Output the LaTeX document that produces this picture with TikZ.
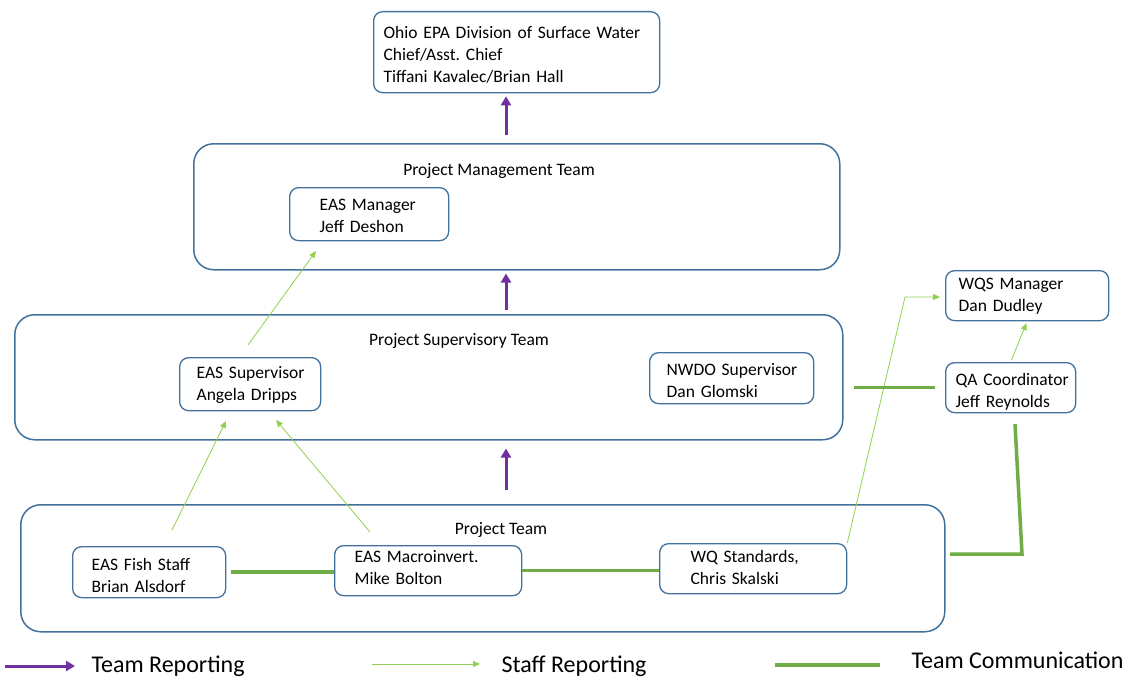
\documentclass[tikz,border=0pt]{standalone}
\usepackage{fontspec}
\setmainfont{Carlito}
\usetikzlibrary{arrows.meta}

\definecolor{boxblue}{HTML}{41719C}
\definecolor{teampurple}{HTML}{7030A0}
\definecolor{staffgreen}{HTML}{92D050}
\definecolor{commgreen}{HTML}{70AD47}

\begin{document}
\frenchspacing
\hyphenpenalty=10000
\begin{tikzpicture}
[
	x=1pt, y=-1pt,
	team/.style={draw=boxblue,line width=1.5pt,rounded corners=20pt,anchor=north west,inner sep=0pt},
	person/.style={draw=boxblue,line width=1.3pt,rounded corners=9pt,anchor=north west,align=left,inner ysep=0pt,text height=0pt,
		font=\fontsize{17.5}{22}\selectfont},
	title/.style={anchor=base,font=\fontsize{17.5}{22}\selectfont},
	teamrep/.style={teampurple,line width=3pt,-{Triangle[length=9pt,width=10pt]}},
	staffrep/.style={staffgreen,line width=0.8pt,-{Triangle[length=7pt,width=6pt]}},
	teamcomm/.style={commgreen,line width=3.5pt},
	legend/.style={anchor=base west,font=\fontsize{24}{28}\selectfont}
]
	\useasboundingbox (0,0) rectangle (1129,677);
	\coordinate (spine) at (506,0);

	% division chief
	\node[person,text width=266pt,inner xsep=10pt,minimum height=81pt,text depth=27pt] (ohio) at (373,11)
		{Ohio EPA Division of Surface Water\\Chief/Asst. Chief\\Tiffani Kavalec/Brian Hall};

	% management team
	\node[team,minimum width=646pt,minimum height=126pt] (pmt) at (193,143) {};
	\node[title] (pmttitle) at (499,175) {Project Management Team};
	\node[person,text width=99pt,inner xsep=30pt,minimum height=53pt,text depth=7pt] (easmgr) at (289,187)
		{EAS Manager\\Jeff Deshon};

	% supervisory team
	\node[team,minimum width=828pt,minimum height=125pt] (pst) at (14,314) {};
	\node[title] (psttitle) at (459,345) {Project Supervisory Team};
	\node[person,text width=107pt,inner xsep=17pt,minimum height=53pt,text depth=11pt] (eassup) at (179,357)
		{EAS~Supervisor\\Angela~Dripps};
	\node[person,text width=130pt,inner xsep=17pt,minimum height=51pt,text depth=5pt] (nwdo) at (649,352)
		{NWDO~Supervisor\\Dan~Glomski};

	% project team
	\node[team,minimum width=924pt,minimum height=127pt] (pt) at (20,504) {};
	\node[title] (pttitle) at (501,534) {Project Team};
	\node[person,text width=115pt,inner xsep=19pt,minimum height=51pt,text depth=3pt] (fish) at (72,546)
		{EAS Fish Staff\\Brian Alsdorf};
	\node[person,text width=147pt,inner xsep=20pt,minimum height=50pt,text depth=16pt] (macro) at (334,545)
		{EAS Macroinvert.\\Mike Bolton};
	\node[person,text width=125pt,inner xsep=31pt,minimum height=50pt,text depth=12pt] (wq) at (659,543)
		{WQ Standards,\\Chris Skalski};

	% water quality standards
	\node[person,text width=137pt,inner xsep=13pt,minimum height=50pt,text depth=12pt] (wqs) at (945,270)
		{WQS~Manager\\Dan~Dudley};
	\node[person,text width=110pt,inner xsep=10pt,minimum height=50pt,text depth=4pt] (qa) at (945,362)
		{QA~Coordinator\\Jeff~Reynolds};

	% team reporting
	\draw[teamrep,shorten <=8pt,shorten >=3pt] (pmt.north -| spine) -- (ohio.south -| spine);
	\draw[teamrep,shorten <=4pt,shorten >=3pt] (pst.north -| spine) -- (pmt.south -| spine);
	\draw[teamrep,shorten <=14pt,shorten >=8pt] (pt.north -| spine) -- (pst.south -| spine);

	% staff reporting
	\coordinate (s1) at (248,345);
	\coordinate (e1) at (316,251);
	\draw[staffrep] (s1) -- (e1);
	\coordinate (s2) at (172,530);
	\coordinate (e2) at (226,421);
	\draw[staffrep] (s2) -- (e2);
	\coordinate (s3) at (370,532);
	\coordinate (e3) at (276,420);
	\draw[staffrep] (s3) -- (e3);
	\coordinate (bend) at (905,297);
	\draw[staffrep,shorten >=5pt] (wq.north east) -- (bend) -- (bend -| wqs.west);
	\draw[staffrep,shorten <=2pt,shorten >=2pt] (qa.north) -- (wqs.south);

	% team communication
	\draw[teamcomm,shorten <=5pt] (fish.east) -- (fish.east -| macro.west);
	\draw[teamcomm] (macro.east) -- (macro.east -| wq.west);
	\draw[teamcomm,shorten <=10pt,shorten >=10pt] (pst.east |- qa.west) -- (qa.west);
	\coordinate (q1) at (1015,424);
	\coordinate (q2) at (1022,554);
	\coordinate (q3) at (950,554);
	\draw[teamcomm] (q1) -- (q2) -- (q3);

	% legend
	\coordinate (l1) at (5,666);
	\coordinate (l2) at (75,666);
	\draw[teamrep] (l1) -- (l2);
	\node[legend] (ltr) at (88,672) {Team Reporting};
	\coordinate (l3) at (372,664);
	\coordinate (l4) at (480,664);
	\draw[staffrep] (l3) -- (l4);
	\node[legend] (lsr) at (498,672) {Staff Reporting};
	\coordinate (l5) at (775,665);
	\coordinate (l6) at (880,665);
	\draw[teamcomm] (l5) -- (l6);
	\node[legend] (ltc) at (908,668) {Team Communication};

\end{tikzpicture}
\end{document}
